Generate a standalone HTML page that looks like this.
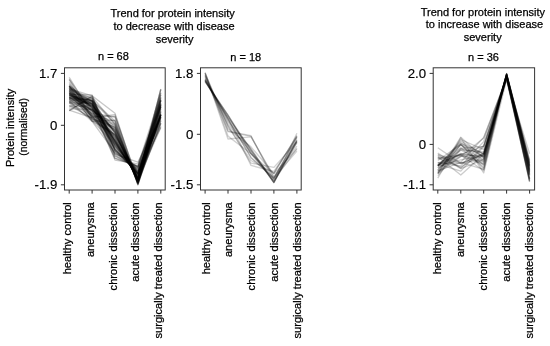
<!DOCTYPE html>
<html><head><meta charset="utf-8"><title>Protein intensity trends</title>
<style>
html,body{margin:0;padding:0;background:#fff;}
body{width:550px;height:346px;overflow:hidden;font-family:"Liberation Sans",sans-serif;}
svg{display:block;filter:grayscale(1);}
</style></head><body>
<svg width="550" height="346" viewBox="0 0 550 346">
<rect width="550" height="346" fill="#fff"/>
<g fill="none" stroke="#000" stroke-opacity="0.22" stroke-width="1.35" stroke-linejoin="round">
<polyline points="69.2,97.1 92.1,99.8 115.0,141.5 137.9,177.6 160.8,110.4"/>
<polyline points="69.2,82.3 92.1,116.3 115.0,140.1 137.9,174.0 160.8,113.8"/>
<polyline points="69.2,110.9 92.1,95.7 115.0,113.3 137.9,183.8 160.8,122.8"/>
<polyline points="69.2,88.7 92.1,95.8 115.0,150.7 137.9,167.7 160.8,123.7"/>
<polyline points="69.2,95.3 92.1,101.6 115.0,150.4 137.9,172.4 160.8,106.8"/>
<polyline points="69.2,86.0 92.1,116.9 115.0,116.4 137.9,179.7 160.8,127.4"/>
<polyline points="69.2,95.1 92.1,100.3 115.0,142.9 137.9,176.6 160.8,111.6"/>
<polyline points="69.2,96.7 92.1,113.7 115.0,125.5 137.9,183.4 160.8,107.1"/>
<polyline points="69.2,99.0 92.1,105.0 115.0,132.2 137.9,182.0 160.8,108.3"/>
<polyline points="69.2,86.0 92.1,108.2 115.0,143.5 137.9,174.1 160.8,114.8"/>
<polyline points="69.2,77.3 92.1,114.6 115.0,154.2 137.9,162.1 160.8,118.3"/>
<polyline points="69.2,86.3 92.1,101.6 115.0,146.4 137.9,171.3 160.8,120.9"/>
<polyline points="69.2,91.3 92.1,111.5 115.0,154.2 137.9,168.6 160.8,100.9"/>
<polyline points="69.2,103.2 92.1,103.3 115.0,141.5 137.9,178.2 160.8,100.3"/>
<polyline points="69.2,110.5 92.1,96.6 115.0,124.5 137.9,183.7 160.8,111.3"/>
<polyline points="69.2,102.1 92.1,101.8 115.0,155.7 137.9,168.9 160.8,98.0"/>
<polyline points="69.2,93.6 92.1,97.3 115.0,145.5 137.9,174.1 160.8,116.0"/>
<polyline points="69.2,91.8 92.1,116.8 115.0,142.8 137.9,175.4 160.8,99.8"/>
<polyline points="69.2,87.9 92.1,115.6 115.0,127.6 137.9,180.6 160.8,114.9"/>
<polyline points="69.2,110.1 92.1,117.9 115.0,129.1 137.9,180.5 160.8,89.0"/>
<polyline points="69.2,79.7 92.1,118.8 115.0,135.5 137.9,174.1 160.8,118.4"/>
<polyline points="69.2,102.4 92.1,116.1 115.0,136.6 137.9,178.8 160.8,92.7"/>
<polyline points="69.2,93.5 92.1,105.5 115.0,140.9 137.9,177.7 160.8,108.9"/>
<polyline points="69.2,79.3 92.1,111.6 115.0,135.5 137.9,172.7 160.8,127.4"/>
<polyline points="69.2,95.1 92.1,110.5 115.0,145.8 137.9,175.0 160.8,100.0"/>
<polyline points="69.2,92.1 92.1,107.7 115.0,130.8 137.9,181.1 160.8,114.8"/>
<polyline points="69.2,93.0 92.1,113.9 115.0,134.5 137.9,180.0 160.8,105.1"/>
<polyline points="69.2,98.1 92.1,103.9 115.0,138.7 137.9,179.4 160.8,106.4"/>
<polyline points="69.2,93.4 92.1,120.8 115.0,134.3 137.9,178.8 160.8,99.2"/>
<polyline points="69.2,91.2 92.1,120.8 115.0,144.3 137.9,173.3 160.8,96.9"/>
<polyline points="69.2,93.2 92.1,106.7 115.0,148.8 137.9,173.2 160.8,104.5"/>
<polyline points="69.2,100.8 92.1,121.4 115.0,120.1 137.9,183.6 160.8,100.5"/>
<polyline points="69.2,95.8 92.1,98.1 115.0,137.4 137.9,178.5 160.8,116.7"/>
<polyline points="69.2,106.2 92.1,100.2 115.0,120.9 137.9,184.7 160.8,114.4"/>
<polyline points="69.2,94.2 92.1,95.0 115.0,156.2 137.9,166.6 160.8,114.5"/>
<polyline points="69.2,93.8 92.1,110.9 115.0,124.4 137.9,183.1 160.8,114.3"/>
<polyline points="69.2,97.8 92.1,101.3 115.0,133.1 137.9,181.2 160.8,113.1"/>
<polyline points="69.2,98.0 92.1,102.8 115.0,140.3 137.9,178.6 160.8,106.7"/>
<polyline points="69.2,100.8 92.1,109.3 115.0,129.7 137.9,182.9 160.8,103.8"/>
<polyline points="69.2,89.9 92.1,101.3 115.0,144.6 137.9,174.1 160.8,116.6"/>
<polyline points="69.2,97.0 92.1,100.4 115.0,123.4 137.9,182.2 160.8,123.6"/>
<polyline points="69.2,102.1 92.1,110.4 115.0,130.4 137.9,182.6 160.8,101.0"/>
<polyline points="69.2,90.4 92.1,106.7 115.0,160.1 137.9,163.9 160.8,105.4"/>
<polyline points="69.2,89.0 92.1,98.3 115.0,146.9 137.9,171.4 160.8,120.9"/>
<polyline points="69.2,105.3 92.1,118.1 115.0,134.8 137.9,178.7 160.8,89.7"/>
<polyline points="69.2,107.0 92.1,105.5 115.0,141.6 137.9,177.6 160.8,94.8"/>
<polyline points="69.2,95.1 92.1,103.2 115.0,158.4 137.9,166.3 160.8,103.5"/>
<polyline points="69.2,97.0 92.1,113.1 115.0,117.0 137.9,184.7 160.8,114.8"/>
<polyline points="69.2,103.1 92.1,119.4 115.0,137.3 137.9,177.3 160.8,89.4"/>
<polyline points="69.2,86.0 92.1,118.8 115.0,127.1 137.9,179.7 160.8,114.9"/>
<polyline points="69.2,98.9 92.1,104.0 115.0,139.4 137.9,179.2 160.8,105.0"/>
<polyline points="69.2,86.2 92.1,107.5 115.0,140.4 137.9,175.5 160.8,117.0"/>
<polyline points="69.2,95.6 92.1,104.5 115.0,151.4 137.9,171.9 160.8,103.1"/>
<polyline points="69.2,87.3 92.1,103.7 115.0,150.2 137.9,170.3 160.8,115.0"/>
<polyline points="69.2,89.1 92.1,101.1 115.0,133.2 137.9,177.3 160.8,125.8"/>
<polyline points="69.2,98.0 92.1,100.5 115.0,148.9 137.9,173.7 160.8,105.4"/>
<polyline points="69.2,101.0 92.1,98.4 115.0,149.8 137.9,173.2 160.8,104.1"/>
<polyline points="69.2,99.3 92.1,115.0 115.0,121.2 137.9,184.5 160.8,106.5"/>
<polyline points="69.2,86.8 92.1,109.2 115.0,132.2 137.9,178.6 160.8,119.7"/>
<polyline points="69.2,91.7 92.1,104.0 115.0,142.4 137.9,176.4 160.8,112.0"/>
<polyline points="69.2,84.1 92.1,108.2 115.0,148.8 137.9,170.2 160.8,115.2"/>
<polyline points="69.2,108.9 92.1,109.4 115.0,131.6 137.9,181.7 160.8,94.9"/>
<polyline points="69.2,99.4 92.1,109.7 115.0,158.1 137.9,166.0 160.8,93.4"/>
<polyline points="69.2,85.3 92.1,105.4 115.0,152.7 137.9,167.9 160.8,115.3"/>
<polyline points="69.2,89.8 92.1,117.4 115.0,114.6 137.9,182.0 160.8,122.8"/>
<polyline points="69.2,87.9 92.1,121.4 115.0,152.7 137.9,166.9 160.8,97.6"/>
<polyline points="69.2,94.1 92.1,106.3 115.0,126.8 137.9,182.3 160.8,116.9"/>
<polyline points="69.2,89.9 92.1,109.9 115.0,128.2 137.9,181.0 160.8,117.5"/>
</g>
<rect x="64.5" y="67.8" width="100.7" height="122.2" fill="none" stroke="#333" stroke-width="1"/>
<path d="M69.2 190.0v3.6M92.1 190.0v3.6M115.0 190.0v3.6M137.9 190.0v3.6M160.8 190.0v3.6M64.5 73.4h-3.6M64.5 125.3h-3.6M64.5 184.8h-3.6" stroke="#333" stroke-width="1" fill="none"/>
<text transform="translate(57.4 77.6) scale(1.05 1)" text-anchor="end" font-family="Liberation Sans, sans-serif" font-size="12.6" fill="#000" stroke="#000" stroke-width="0.15">1.7</text>
<text transform="translate(57.4 129.5) scale(1.05 1)" text-anchor="end" font-family="Liberation Sans, sans-serif" font-size="12.6" fill="#000" stroke="#000" stroke-width="0.15">0</text>
<text transform="translate(57.4 189.0) scale(1.05 1)" text-anchor="end" font-family="Liberation Sans, sans-serif" font-size="12.6" fill="#000" stroke="#000" stroke-width="0.15">-1.9</text>
<text transform="translate(71.3 202.2) rotate(-90)" text-anchor="end" font-family="Liberation Sans, sans-serif" stroke="#000" stroke-width="0.25" font-size="11.1" fill="#000">healthy control</text>
<text transform="translate(94.0 202.2) rotate(-90)" text-anchor="end" font-family="Liberation Sans, sans-serif" stroke="#000" stroke-width="0.25" font-size="11.1" fill="#000">aneurysma</text>
<text transform="translate(116.7 202.2) rotate(-90)" text-anchor="end" font-family="Liberation Sans, sans-serif" stroke="#000" stroke-width="0.25" font-size="11.1" fill="#000">chronic dissection</text>
<text transform="translate(139.4 202.2) rotate(-90)" text-anchor="end" font-family="Liberation Sans, sans-serif" stroke="#000" stroke-width="0.25" font-size="11.1" fill="#000">acute dissection</text>
<text transform="translate(162.1 202.2) rotate(-90)" text-anchor="end" font-family="Liberation Sans, sans-serif" stroke="#000" stroke-width="0.25" font-size="11.1" fill="#000">surgically treated dissection</text>
<text x="113.4" y="59.8" text-anchor="middle" font-family="Liberation Sans, sans-serif" stroke="#000" stroke-width="0.25" font-size="11" fill="#000">n = 68</text>
<g fill="none" stroke="#000" stroke-opacity="0.18" stroke-width="1.35" stroke-linejoin="round">
<polyline points="205.1,80.6 228.0,115.3 251.0,153.3 273.9,179.5 296.9,142.8"/>
<polyline points="205.1,73.8 228.0,125.5 251.0,163.1 273.9,167.4 296.9,141.7"/>
<polyline points="205.1,79.8 228.0,118.8 251.0,157.7 273.9,178.5 296.9,136.7"/>
<polyline points="205.1,74.7 228.0,131.6 251.0,136.4 273.9,177.7 296.9,151.1"/>
<polyline points="205.1,72.9 228.0,139.0 251.0,136.8 273.9,176.6 296.9,146.1"/>
<polyline points="205.1,72.6 228.0,136.1 251.0,153.8 273.9,173.4 296.9,135.6"/>
<polyline points="205.1,81.7 228.0,115.2 251.0,150.5 273.9,182.0 296.9,142.1"/>
<polyline points="205.1,79.5 228.0,118.8 251.0,157.4 273.9,178.3 296.9,137.5"/>
<polyline points="205.1,81.7 228.0,115.1 251.0,153.8 273.9,180.9 296.9,140.0"/>
<polyline points="205.1,79.6 228.0,124.5 251.0,151.5 273.9,182.7 296.9,133.2"/>
<polyline points="205.1,80.8 228.0,117.7 251.0,148.9 273.9,182.5 296.9,141.6"/>
<polyline points="205.1,73.0 228.0,128.7 251.0,146.9 273.9,173.7 296.9,149.2"/>
<polyline points="205.1,81.4 228.0,116.6 251.0,150.5 273.9,182.3 296.9,140.8"/>
<polyline points="205.1,79.7 228.0,120.8 251.0,148.8 273.9,182.5 296.9,139.6"/>
<polyline points="205.1,77.0 228.0,122.2 251.0,153.6 273.9,177.7 296.9,141.0"/>
<polyline points="205.1,78.4 228.0,118.8 251.0,165.4 273.9,171.5 296.9,137.4"/>
<polyline points="205.1,76.1 228.0,131.1 251.0,135.7 273.9,180.5 296.9,148.1"/>
<polyline points="205.1,75.5 228.0,126.5 251.0,160.5 273.9,173.2 296.9,135.8"/>
</g>
<rect x="200.5" y="67.8" width="100.7" height="122.2" fill="none" stroke="#333" stroke-width="1"/>
<path d="M205.1 190.0v3.6M228.0 190.0v3.6M251.0 190.0v3.6M273.9 190.0v3.6M296.9 190.0v3.6M200.5 73.4h-3.6M200.5 134.3h-3.6M200.5 184.8h-3.6" stroke="#333" stroke-width="1" fill="none"/>
<text transform="translate(193.4 77.6) scale(1.05 1)" text-anchor="end" font-family="Liberation Sans, sans-serif" font-size="12.6" fill="#000" stroke="#000" stroke-width="0.15">1.8</text>
<text transform="translate(193.4 138.5) scale(1.05 1)" text-anchor="end" font-family="Liberation Sans, sans-serif" font-size="12.6" fill="#000" stroke="#000" stroke-width="0.15">0</text>
<text transform="translate(193.4 189.0) scale(1.05 1)" text-anchor="end" font-family="Liberation Sans, sans-serif" font-size="12.6" fill="#000" stroke="#000" stroke-width="0.15">-1.5</text>
<text transform="translate(209.6 202.2) rotate(-90)" text-anchor="end" font-family="Liberation Sans, sans-serif" stroke="#000" stroke-width="0.25" font-size="11.1" fill="#000">healthy control</text>
<text transform="translate(232.4 202.2) rotate(-90)" text-anchor="end" font-family="Liberation Sans, sans-serif" stroke="#000" stroke-width="0.25" font-size="11.1" fill="#000">aneurysma</text>
<text transform="translate(255.2 202.2) rotate(-90)" text-anchor="end" font-family="Liberation Sans, sans-serif" stroke="#000" stroke-width="0.25" font-size="11.1" fill="#000">chronic dissection</text>
<text transform="translate(278.0 202.2) rotate(-90)" text-anchor="end" font-family="Liberation Sans, sans-serif" stroke="#000" stroke-width="0.25" font-size="11.1" fill="#000">acute dissection</text>
<text transform="translate(300.8 202.2) rotate(-90)" text-anchor="end" font-family="Liberation Sans, sans-serif" stroke="#000" stroke-width="0.25" font-size="11.1" fill="#000">surgically treated dissection</text>
<text x="245.8" y="60.8" text-anchor="middle" font-family="Liberation Sans, sans-serif" stroke="#000" stroke-width="0.25" font-size="11" fill="#000">n = 18</text>
<g fill="none" stroke="#000" stroke-opacity="0.2" stroke-width="1.35" stroke-linejoin="round">
<polyline points="437.8,165.4 460.8,154.4 483.7,162.2 506.6,73.9 529.6,166.0"/>
<polyline points="437.8,156.7 460.8,163.7 483.7,153.4 506.6,74.7 529.6,173.4"/>
<polyline points="437.8,164.0 460.8,171.1 483.7,146.8 506.6,75.3 529.6,164.7"/>
<polyline points="437.8,165.4 460.8,143.4 483.7,153.6 506.6,78.1 529.6,181.5"/>
<polyline points="437.8,155.0 460.8,168.6 483.7,159.7 506.6,74.0 529.6,164.6"/>
<polyline points="437.8,165.9 460.8,144.7 483.7,160.5 506.6,76.2 529.6,174.8"/>
<polyline points="437.8,170.3 460.8,144.8 483.7,165.2 506.6,75.6 529.6,166.1"/>
<polyline points="437.8,171.3 460.8,156.3 483.7,154.7 506.6,74.4 529.6,165.3"/>
<polyline points="437.8,165.8 460.8,141.2 483.7,154.4 506.6,78.7 529.6,182.0"/>
<polyline points="437.8,165.2 460.8,147.8 483.7,167.3 506.6,74.9 529.6,166.9"/>
<polyline points="437.8,166.2 460.8,142.8 483.7,156.8 506.6,77.4 529.6,178.8"/>
<polyline points="437.8,173.9 460.8,148.9 483.7,153.3 506.6,76.0 529.6,169.9"/>
<polyline points="437.8,154.5 460.8,162.3 483.7,169.3 506.6,74.0 529.6,161.9"/>
<polyline points="437.8,162.3 460.8,166.0 483.7,141.6 506.6,76.9 529.6,175.2"/>
<polyline points="437.8,173.9 460.8,137.2 483.7,158.1 506.6,78.7 529.6,174.0"/>
<polyline points="437.8,166.1 460.8,150.1 483.7,161.5 506.6,74.6 529.6,169.6"/>
<polyline points="437.8,166.1 460.8,159.9 483.7,155.5 506.6,73.9 529.6,166.6"/>
<polyline points="437.8,153.1 460.8,168.3 483.7,145.5 506.6,77.1 529.6,177.9"/>
<polyline points="437.8,172.4 460.8,139.6 483.7,149.5 506.6,79.9 529.6,180.5"/>
<polyline points="437.8,163.1 460.8,163.1 483.7,159.3 506.6,73.5 529.6,163.1"/>
<polyline points="437.8,173.2 460.8,144.7 483.7,156.6 506.6,76.5 529.6,171.0"/>
<polyline points="437.8,165.2 460.8,153.9 483.7,156.5 506.6,74.6 529.6,171.9"/>
<polyline points="437.8,158.2 460.8,154.7 483.7,163.7 506.6,74.3 529.6,171.1"/>
<polyline points="437.8,173.0 460.8,156.6 483.7,138.0 506.6,78.7 529.6,175.7"/>
<polyline points="437.8,175.6 460.8,149.8 483.7,151.8 506.6,76.2 529.6,168.6"/>
<polyline points="437.8,160.5 460.8,144.3 483.7,169.0 506.6,76.1 529.6,172.2"/>
<polyline points="437.8,170.8 460.8,162.3 483.7,137.4 506.6,78.1 529.6,173.3"/>
<polyline points="437.8,159.2 460.8,155.3 483.7,170.5 506.6,74.1 529.6,162.8"/>
<polyline points="437.8,167.9 460.8,153.4 483.7,158.3 506.6,74.3 529.6,168.1"/>
<polyline points="437.8,156.8 460.8,175.0 483.7,154.3 506.6,74.9 529.6,161.1"/>
<polyline points="437.8,163.1 460.8,154.4 483.7,146.1 506.6,77.3 529.6,181.1"/>
<polyline points="437.8,170.1 460.8,148.3 483.7,146.4 506.6,78.0 529.6,179.2"/>
<polyline points="437.8,157.8 460.8,167.2 483.7,153.1 506.6,74.4 529.6,169.5"/>
<polyline points="437.8,147.8 460.8,163.4 483.7,154.7 506.6,76.6 529.6,179.5"/>
<polyline points="437.8,168.2 460.8,155.7 483.7,164.4 506.6,73.9 529.6,159.8"/>
<polyline points="437.8,178.1 460.8,137.8 483.7,172.9 506.6,79.4 529.6,153.7"/>
</g>
<rect x="433.2" y="67.8" width="101.4" height="122.2" fill="none" stroke="#333" stroke-width="1"/>
<path d="M437.8 190.0v3.6M460.8 190.0v3.6M483.7 190.0v3.6M506.6 190.0v3.6M529.6 190.0v3.6M433.2 73.4h-3.6M433.2 144.4h-3.6M433.2 184.8h-3.6" stroke="#333" stroke-width="1" fill="none"/>
<text transform="translate(426.1 77.6) scale(1.05 1)" text-anchor="end" font-family="Liberation Sans, sans-serif" font-size="12.6" fill="#000" stroke="#000" stroke-width="0.15">2.0</text>
<text transform="translate(426.1 148.6) scale(1.05 1)" text-anchor="end" font-family="Liberation Sans, sans-serif" font-size="12.6" fill="#000" stroke="#000" stroke-width="0.15">0</text>
<text transform="translate(426.1 189.0) scale(1.05 1)" text-anchor="end" font-family="Liberation Sans, sans-serif" font-size="12.6" fill="#000" stroke="#000" stroke-width="0.15">-1.1</text>
<text transform="translate(441.3 202.2) rotate(-90)" text-anchor="end" font-family="Liberation Sans, sans-serif" stroke="#000" stroke-width="0.25" font-size="11.1" fill="#000">healthy control</text>
<text transform="translate(464.3 202.2) rotate(-90)" text-anchor="end" font-family="Liberation Sans, sans-serif" stroke="#000" stroke-width="0.25" font-size="11.1" fill="#000">aneurysma</text>
<text transform="translate(487.3 202.2) rotate(-90)" text-anchor="end" font-family="Liberation Sans, sans-serif" stroke="#000" stroke-width="0.25" font-size="11.1" fill="#000">chronic dissection</text>
<text transform="translate(510.3 202.2) rotate(-90)" text-anchor="end" font-family="Liberation Sans, sans-serif" stroke="#000" stroke-width="0.25" font-size="11.1" fill="#000">acute dissection</text>
<text transform="translate(533.3 202.2) rotate(-90)" text-anchor="end" font-family="Liberation Sans, sans-serif" stroke="#000" stroke-width="0.25" font-size="11.1" fill="#000">surgically treated dissection</text>
<text x="483.5" y="60.6" text-anchor="middle" font-family="Liberation Sans, sans-serif" stroke="#000" stroke-width="0.25" font-size="11" fill="#000">n = 36</text>
<text x="172.6" y="16.7" text-anchor="middle" font-family="Liberation Sans, sans-serif" stroke="#000" stroke-width="0.25" font-size="11" fill="#000">Trend for protein intensity</text>
<text x="174.0" y="29.5" text-anchor="middle" font-family="Liberation Sans, sans-serif" stroke="#000" stroke-width="0.25" font-size="11" fill="#000">to decrease with disease</text>
<text x="174.6" y="42.5" text-anchor="middle" font-family="Liberation Sans, sans-serif" stroke="#000" stroke-width="0.25" font-size="11" fill="#000">severity</text>
<text x="482.9" y="15.6" text-anchor="middle" font-family="Liberation Sans, sans-serif" stroke="#000" stroke-width="0.25" font-size="11" fill="#000">Trend for protein intensity</text>
<text x="484.5" y="27.9" text-anchor="middle" font-family="Liberation Sans, sans-serif" stroke="#000" stroke-width="0.25" font-size="11" fill="#000">to increase with disease</text>
<text x="482.7" y="40.8" text-anchor="middle" font-family="Liberation Sans, sans-serif" stroke="#000" stroke-width="0.25" font-size="11" fill="#000">severity</text>
<text transform="translate(13.7 127.9) rotate(-90)" text-anchor="middle" font-family="Liberation Sans, sans-serif" stroke="#000" stroke-width="0.25" font-size="11" fill="#000">Protein intensity</text>
<text transform="translate(27.3 126.9) rotate(-90)" text-anchor="middle" font-family="Liberation Sans, sans-serif" stroke="#000" stroke-width="0.25" font-size="10.4" fill="#000">(normalised)</text>
</svg>
</body></html>
